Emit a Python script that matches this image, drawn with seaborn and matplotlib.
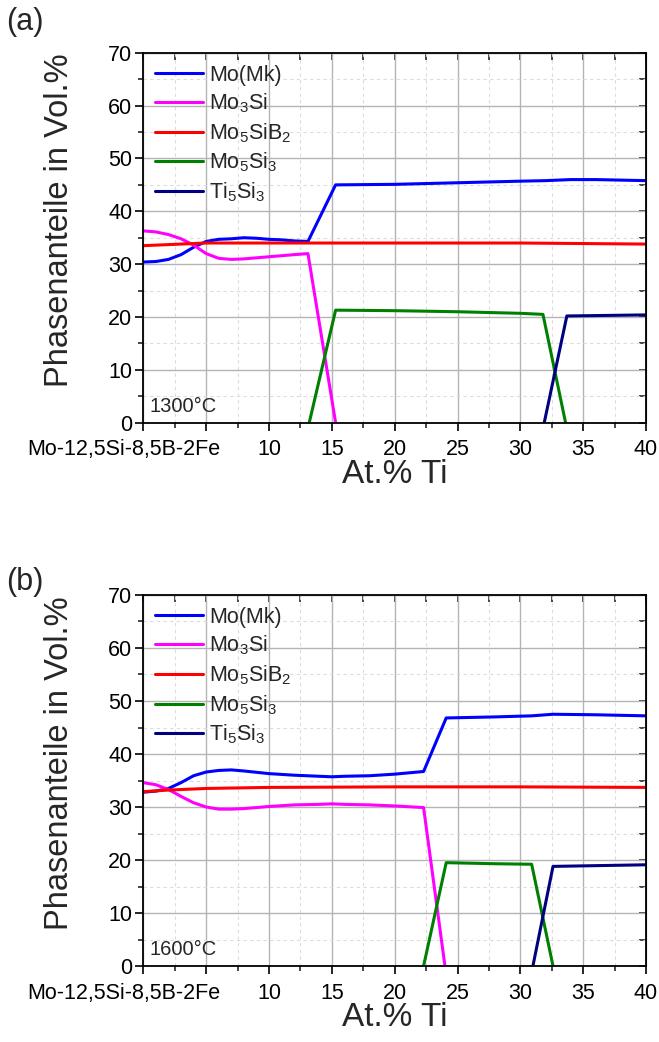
import matplotlib
matplotlib.use("Agg")
import matplotlib.pyplot as plt
import matplotlib.transforms as mtransforms
from matplotlib.ticker import MultipleLocator
import seaborn as sns
import pandas as pd

# ---------------- data ----------------
phase_names = ["Mo(Mk)", "Mo$_3$Si", "Mo$_5$SiB$_2$", "Mo$_5$Si$_3$", "Ti$_5$Si$_3$"]
phase_colors = ["#0000FF", "#FF00FF", "#FF0000", "#008000", "#000080"]
panel_letters = ["(a)", "(b)"]
panel_temps = ["1300°C", "1600°C"]
x_tick_values = [0, 5, 10, 15, 20, 25, 30, 35, 40]
x_tick_labels = ["Mo-12,5Si-8,5B-2Fe", "", "10", "15", "20", "25", "30", "35", "40"]
y_tick_values = [0, 10, 20, 30, 40, 50, 60, 70]

# 1300 °C
a_mk_x = [0, 1, 2, 3, 4, 5, 6, 7, 8, 9, 10, 11, 12, 13.1, 15.3, 20, 25, 30, 32, 34, 36, 40]
a_mk_y = [30.4, 30.5, 30.9, 31.8, 33.2, 34.3, 34.7, 34.8, 35.0, 34.9, 34.7, 34.6, 34.4, 34.3,
          45.0, 45.1, 45.4, 45.7, 45.8, 46.0, 46.0, 45.8]
a_mo3si_x = [0, 1, 2, 3, 4, 5, 6, 7, 8, 9, 10, 11, 12, 13.1, 15.3]
a_mo3si_y = [36.3, 36.1, 35.6, 34.8, 33.6, 32.0, 31.1, 30.9, 31.0, 31.2, 31.4, 31.6, 31.8, 32.0, 0]
a_t2_x = [0, 2, 4, 5, 10, 20, 30, 35, 40]
a_t2_y = [33.5, 33.7, 33.9, 34.0, 34.0, 34.0, 34.0, 33.9, 33.8]
a_mo5si3_x = [13.2, 15.3, 20, 25, 30, 31.8, 33.6]
a_mo5si3_y = [0, 21.3, 21.2, 21.0, 20.7, 20.5, 0]
a_ti5si3_x = [31.9, 33.7, 40]
a_ti5si3_y = [0, 20.2, 20.4]

# 1600 °C
b_mk_x = [0, 1, 2, 3, 4, 5, 6, 7, 8, 10, 12, 14, 15, 16, 18, 20, 22.3, 24.1, 28, 30.9, 32.6, 36, 40]
b_mk_y = [32.8, 33.0, 33.5, 34.6, 35.9, 36.6, 36.9, 37.0, 36.8, 36.3, 36.0, 35.8, 35.7, 35.8,
          35.9, 36.2, 36.7, 46.8, 47.0, 47.2, 47.5, 47.4, 47.2]
b_mo3si_x = [0, 1, 2, 3, 4, 5, 6, 7, 8, 10, 12, 14, 15, 16, 18, 20, 22.3, 24.0]
b_mo3si_y = [34.6, 34.2, 33.3, 32.0, 30.8, 30.0, 29.6, 29.6, 29.7, 30.1, 30.4, 30.5, 30.6, 30.5,
             30.4, 30.2, 29.9, 0]
b_t2_x = [0, 2, 5, 10, 20, 30, 40]
b_t2_y = [32.9, 33.2, 33.5, 33.7, 33.8, 33.8, 33.7]
b_mo5si3_x = [22.3, 24.1, 28, 30.9, 32.6]
b_mo5si3_y = [0, 19.5, 19.3, 19.2, 0]
b_ti5si3_x = [31.0, 32.6, 40]
b_ti5si3_y = [0, 18.8, 19.1]

panels = [
    [(a_mk_x, a_mk_y), (a_mo3si_x, a_mo3si_y), (a_t2_x, a_t2_y), (a_mo5si3_x, a_mo5si3_y), (a_ti5si3_x, a_ti5si3_y)],
    [(b_mk_x, b_mk_y), (b_mo3si_x, b_mo3si_y), (b_t2_x, b_t2_y), (b_mo5si3_x, b_mo5si3_y), (b_ti5si3_x, b_ti5si3_y)],
]

# ---------------- style ----------------
sns.set_style("white")
plt.rcParams["font.family"] = ["Liberation Sans", "DejaVu Sans"]
plt.rcParams["mathtext.default"] = "regular"

fig = plt.figure(figsize=(6.59, 10.42), dpi=100)
axes_rects = [
    [0.2175, 0.5943, 0.7628, 0.3551],
    [0.2175, 0.0729, 0.7628, 0.3561],
]

for p, rect in enumerate(axes_rects):
    ax = fig.add_axes(rect)
    for (xs, ys), name, col in zip(panels[p], phase_names, phase_colors):
        df = pd.DataFrame({"x": xs, "y": ys})
        sns.lineplot(data=df, x="x", y="y", ax=ax, color=col, label=name,
                     sort=False, estimator=None, linewidth=2.2)

    ax.set_xlim(0, 40)
    ax.set_ylim(0, 70)
    ax.set_xticks(x_tick_values)
    ax.set_xticklabels(x_tick_labels)
    ax.set_yticks(y_tick_values)
    ax.xaxis.set_minor_locator(MultipleLocator(2.5))
    ax.yaxis.set_minor_locator(MultipleLocator(5))

    ax.grid(True, which="major", color="#b4b4b4", linewidth=1.0, linestyle="-")
    ax.grid(True, which="minor", color="#dcdcdc", linewidth=0.8, linestyle=(0, (3, 3)))
    ax.set_axisbelow(True)

    for s in ax.spines.values():
        s.set_visible(True)
        s.set_color("black")
        s.set_linewidth(1.3)

    ax.tick_params(axis="both", which="major", direction="out", length=6, width=1.2,
                   labelsize=15.5, colors="black")
    ax.tick_params(axis="x", which="major", pad=6)
    ax.tick_params(axis="y", which="major", pad=2)
    ax.tick_params(axis="both", which="minor", direction="out", length=3.5, width=1.2)
    ax.tick_params(bottom=True, left=True, which="both")

    # shift first tick label slightly to the left
    lbl0 = ax.get_xticklabels()[0]
    lbl0.set_transform(lbl0.get_transform() + mtransforms.ScaledTranslation(-20 / 100, 0, fig.dpi_scale_trans))

    sec_x = ax.secondary_xaxis("top")
    sec_x.set_xticks(x_tick_values)
    sec_x.xaxis.set_minor_locator(MultipleLocator(2.5))
    sec_x.tick_params(which="both", direction="in", length=5, width=1.2, labeltop=False)
    sec_y = ax.secondary_yaxis("right")
    sec_y.set_yticks(y_tick_values)
    sec_y.yaxis.set_minor_locator(MultipleLocator(5))
    sec_y.tick_params(which="both", direction="in", length=5, width=1.2, labelright=False)

    ax.set_xlabel("At.% Ti", fontsize=24)
    ax.xaxis.set_label_coords(0.5, -0.097)
    ax.set_ylabel("Phasenanteile in Vol.%", fontsize=23.5)
    ax.yaxis.set_label_coords(-0.135, 0.548)

    leg = ax.legend(loc="upper left", frameon=False, fontsize=15.5, handlelength=2.2,
                    handletextpad=0.3, labelspacing=0.28, borderaxespad=0.15,
                    bbox_to_anchor=(0.0, 1.0))
    for line in leg.get_lines():
        line.set_linewidth(2.2)

    ax.text(0.013, 0.045, panel_temps[p], transform=ax.transAxes, fontsize=14.5,
            ha="left", va="center")

fig.text(0.01, 0.979, panel_letters[0], fontsize=22, ha="left", va="center")
fig.text(0.01, 0.4415, panel_letters[1], fontsize=22, ha="left", va="center")

fig.savefig("out.png", dpi=100)
